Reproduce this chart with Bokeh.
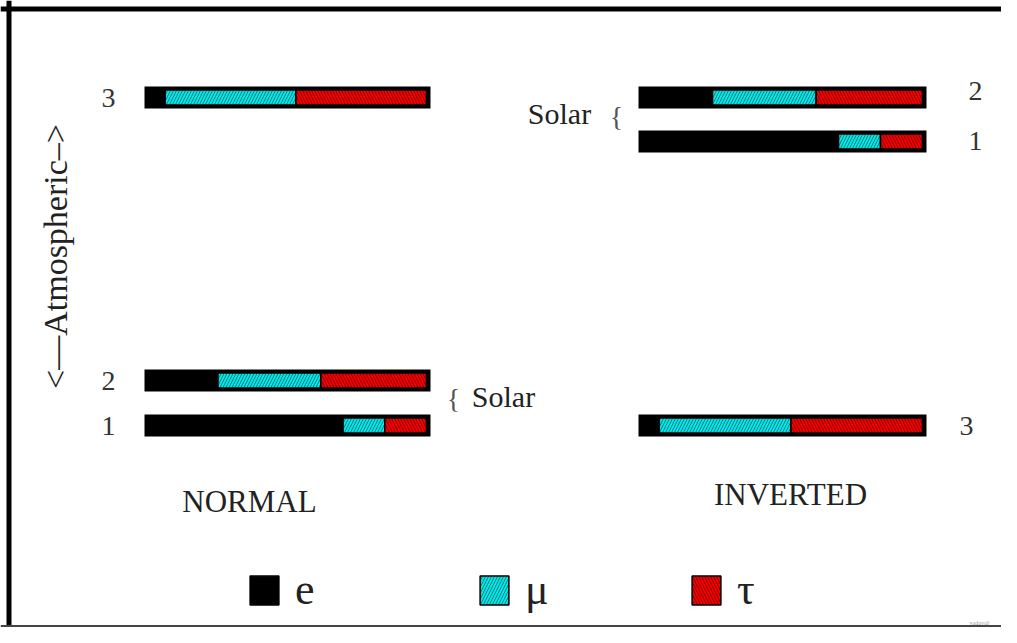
import numpy as np
from bokeh.plotting import figure
from bokeh.models import Range1d, Label, ColumnDataSource, Span, Legend, LegendItem
from bokeh.embed import file_html
from bokeh.resources import INLINE
from bokeh.core.properties import value

# ---------------- data ----------------
# mass eigenstates and their flavour content (fractions)
states = ["1", "2", "3"]
e_frac = [0.70, 0.25, 0.06]
mu_frac = [0.15, 0.37, 0.47]
tau_frac = [0.15, 0.38, 0.47]

# schematic mass-squared level of each state (0 = lowest, 1 = highest)
normal_level = [0.0, 0.137, 1.0]
inverted_level = [0.866, 1.0, 0.0]

flavors = ["e", "μ", "τ"]
panel_titles = ["NORMAL", "INVERTED"]
side_word = "Solar"
axis_word = "<—Atmospheric–>"

# ---------------- styling / layout ----------------
FONT = "Liberation Serif"
CYAN = "#00e8e8"
RED = "#f20000"
CYAN_HATCH = "#007f86"
RED_HATCH = "#8a0000"

W, H = 1001, 627
X0, Y0 = 0, 0            # data coords == picture pixels

p = figure(width=W, height=H,
           x_range=Range1d(X0, X0 + W), y_range=Range1d(Y0 + H, Y0),
           output_backend="svg", toolbar_location=None, min_border=0,
           x_axis_location=None, y_axis_location=None,
           outline_line_color=None, background_fill_color="white",
           border_fill_color="white")
p.grid.visible = False

# bar scales: fraction 0..1 along each panel, mass level along y
NX0, NXW = 148.0, 278.0
IX0, IXW = 642.0, 280.0
LY0, LYH = 425.0, 328.0
p.extra_x_ranges = {
    "nx": Range1d((X0 - NX0) / NXW, (X0 + W - NX0) / NXW),
    "ix": Range1d((X0 - IX0) / IXW, (X0 + W - IX0) / IXW),
}
p.extra_y_ranges = {"m": Range1d((LY0 - (Y0 + H)) / LYH, (LY0 - Y0) / LYH)}

BAR_H = 14.0 / LYH
SEG_H = 15.0 / LYH

e_arr = np.array(e_frac)
mu_arr = np.array(mu_frac)
tau_arr = np.array(tau_frac)

legend_renderers = {}
for xr, levels in (("nx", normal_level), ("ix", inverted_level)):
    src = ColumnDataSource(dict(
        level=levels,
        zero=np.zeros(3),
        one=e_arr + mu_arr + tau_arr,
        e_right=e_arr,
        mu_left=e_arr, mu_right=e_arr + mu_arr,
        tau_left=e_arr + mu_arr, tau_right=e_arr + mu_arr + tau_arr,
    ))
    # black body / frame of each bar
    p.hbar(y="level", left="zero", right="one", height=BAR_H, source=src,
           fill_color="black", line_color="black", line_width=8,
           line_join="miter", x_range_name=xr, y_range_name="m")
    r_e = p.hbar(y="level", left="zero", right="e_right", height=SEG_H, source=src,
                 fill_color="black", line_color="black", line_width=1.5,
                 x_range_name=xr, y_range_name="m")
    r_mu = p.hbar(y="level", left="mu_left", right="mu_right", height=SEG_H, source=src,
                  fill_color=CYAN, line_color="black", line_width=1.5,
                  hatch_pattern="/", hatch_color=CYAN_HATCH, hatch_scale=6,
                  hatch_weight=1, x_range_name=xr, y_range_name="m")
    r_tau = p.hbar(y="level", left="tau_left", right="tau_right", height=SEG_H, source=src,
                   fill_color=RED, line_color="black", line_width=1.5,
                   hatch_pattern="\\", hatch_color=RED_HATCH, hatch_scale=6,
                   hatch_weight=1, x_range_name=xr, y_range_name="m")
    if xr == "nx":
        legend_renderers = {"e": r_e, "μ": r_mu, "τ": r_tau}

# state numbers next to the bars
num_style = dict(text_align="center", text_baseline="middle",
                 text_font=value(FONT), text_font_size="28px", text_color="#333333",
                 y_range_name="m")
p.text(x=108, y="level", text="state",
       source=ColumnDataSource(dict(level=normal_level, state=states)), **num_style)
p.text(x="lx", y="level", text="state", y_offset="dy",
       source=ColumnDataSource(dict(level=inverted_level, state=states,
                                    lx=[975, 975, 966], dy=[0, -7, 0])), **num_style)

# text labels
def lab(x, y, text, size, **kw):
    d = dict(x=x, y=y, text=text, text_font=FONT, text_font_size=size,
             text_color="#222222", text_align="center", text_baseline="middle")
    d.update(kw)
    p.add_layout(Label(**d))

lab(249, 501, panel_titles[0], "31px")
lab(790, 494, panel_titles[1], "31px")
lab(503, 396, side_word, "30px")
lab(559, 113, side_word, "30px")
lab(453, 398, "{", "28px", text_color="#555555")
lab(616, 116, "{", "28px", text_color="#555555")
lab(55, 256, axis_word, "34px", angle=90, angle_units="deg")
lab(979, 622, "yadav@", "6px", text_color="#999999")

# legend: one item per flavour
leg_x = [246, 476, 688]
for name, lx in zip(flavors, leg_x):
    lg = Legend(items=[LegendItem(label=value(name), renderers=[legend_renderers[name]])],
                location=(lx, 12), orientation="horizontal",
                glyph_width=36, glyph_height=36, label_standoff=13,
                label_text_font=FONT, label_text_font_size="44px",
                label_text_color="#222222", label_text_baseline="middle",
                padding=0, margin=0, spacing=0,
                border_line_color=None, background_fill_alpha=0)
    p.add_layout(lg)

# picture frame (top, left, bottom edges)
p.add_layout(Span(location=8.5, dimension="width", line_color="black", line_width=5))
p.add_layout(Span(location=8.5, dimension="height", line_color="black", line_width=5))
p.add_layout(Span(location=H - 1.5, dimension="width", line_color="#444444", line_width=2))

open("out.html", "w").write(file_html(p, INLINE))
